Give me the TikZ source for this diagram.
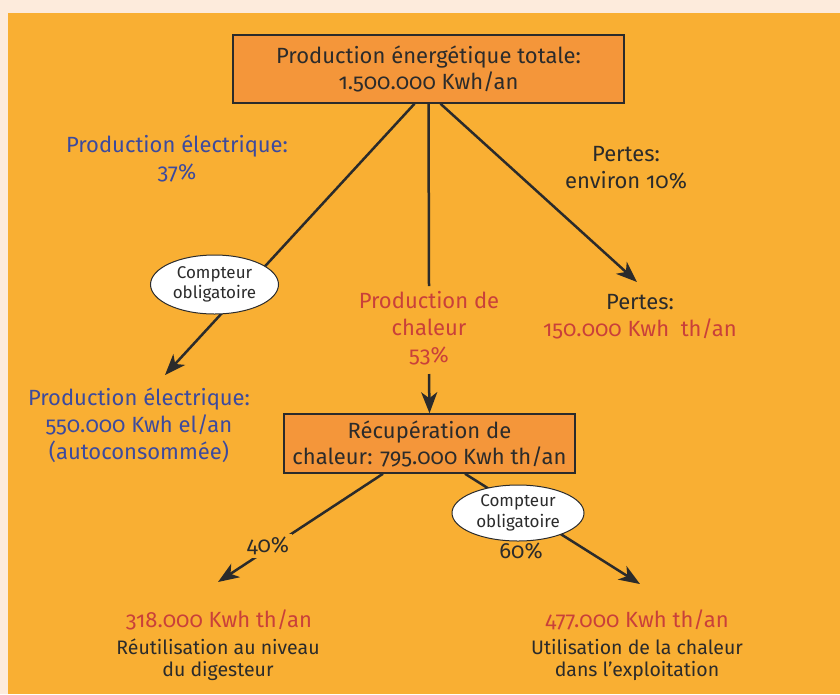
\documentclass[tikz,border=0pt]{standalone}
\usepackage{fontspec}
\setmainfont{Fira Sans}[Numbers=OldStyle]
\usetikzlibrary{arrows.meta,shapes.geometric}
\definecolor{cream}{HTML}{FDEBDC}
\definecolor{bgorange}{HTML}{F9AF33}
\definecolor{boxorange}{HTML}{F4963A}
\definecolor{txtblue}{HTML}{3C4A9E}
\definecolor{txtred}{HTML}{C9403A}
\definecolor{txtdark}{HTML}{2B2B2B}
\tikzset{
  mainbox/.style={draw=txtdark, line width=1.5pt, fill=boxorange, align=center, text=txtdark, inner sep=0pt, font=\fontsize{22}{26}\selectfont},
  meter/.style={ellipse, draw=txtdark, line width=1pt, fill=white, align=center, text=txtdark, inner sep=0pt, font=\fontsize{17}{20.5}\selectfont},
  bigtxt/.style={align=center, inner sep=1pt, font=\fontsize{22}{27}\selectfont},
  smalltxt/.style={align=center, inner sep=1pt, text=txtdark, font=\fontsize{19.5}{22}\selectfont},
  conn/.style={draw=txtdark, line width=2.5pt},
  arr/.style={conn, -{Stealth[length=21pt,width=16pt,inset=6pt]}},
}
\begin{document}
\begin{tikzpicture}[x=1pt,y=-1pt]
\fill[cream] (0,0) rectangle (840,694);
\fill[bgorange] (8,13) rectangle (840,694);
\useasboundingbox (0,0) rectangle (840,694);

\node[mainbox, minimum width=391pt, minimum height=68pt] (top) at (428.5,69) {Production énergétique totale:\\1.500.000 Kwh/an};
\node[mainbox, minimum width=291pt, minimum height=59pt] (recup) at (429.5,443.5) {Récupération de\\chaleur: 795.000 Kwh th/an};

\node[bigtxt, text=txtblue] (prodel1) at (177,158) {Production électrique:\\37\%};
\node[bigtxt, text=txtdark] (pertes1) at (626,168) {Pertes:\\environ 10\%};
\node[bigtxt, text=txtred] (chal) at (429,328) {Production de\\chaleur\\53\%};
\node[bigtxt, text=txtdark] (pertes2) at (640,317) {Pertes:\\\textcolor{txtred}{150.000 Kwh\ \ th/an}};
\node[bigtxt, text=txtblue] (prodel2) at (139,425) {Production électrique:\\550.000 Kwh el/an\\(autoconsommée)};
\node[bigtxt, text=txtred] (val1) at (219,620) {318.000 Kwh th/an};
\node[smalltxt] (use1) at (218,660) {Réutilisation au niveau\\du digesteur};
\node[bigtxt, text=txtred] (val2) at (637,620) {477.000 Kwh th/an};
\node[smalltxt] (use2) at (637,660) {Utilisation de la chaleur\\dans l’exploitation};

\coordinate (eEnd) at (165,375);
\coordinate (lEnd) at (637,282);
\coordinate (bl) at (218,582);
\coordinate (br) at (640,584);

\draw[arr] ([xshift=-14pt]top.south) -- (eEnd);
\draw[arr] ([xshift=12pt]top.south) -- (lEnd);
\draw[conn] (top.south) -- (429,286);
\draw[arr] (429,374) -- (recup.north);
\draw[arr] ([xshift=-46.5pt]recup.south) -- (bl);
\draw[arr] ([xshift=35.5pt]recup.south) -- (br);

\node[bigtxt, text=txtdark, fill=bgorange, inner sep=3pt] (p40) at (268,546) {40\%};
\node[bigtxt, text=txtdark] (p60) at (521,551) {60\%};
\node[meter, minimum width=128pt, minimum height=59pt] (m1) at (214.5,284.5) {Compteur\\obligatoire};
\node[meter, minimum width=132pt, minimum height=56pt] (m2) at (518,513) {Compteur\\obligatoire};
\end{tikzpicture}
\end{document}
